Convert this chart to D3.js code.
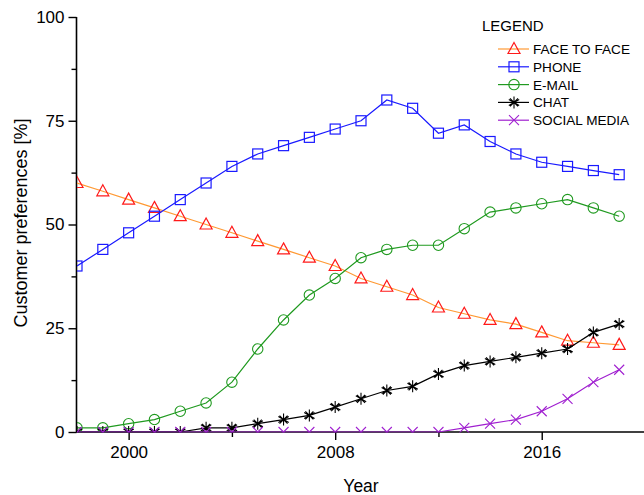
<!DOCTYPE html>
<html>
<head>
<meta charset="utf-8">
<script src="https://cdn.jsdelivr.net/npm/d3@7"></script>
<style>
  body { margin: 0; background: #fff; }
  svg { display: block; font-family: "Liberation Sans", Arial, sans-serif; }
</style>
</head>
<body>
<svg id="chart" width="644" height="495"></svg>
<script>
var years = d3.range(1998, 2020);
var faceToFace = [60, 58, 56, 54, 52, 50, 48, 46, 44, 42, 40, 37, 35, 33, 30, 28.5, 27, 26, 24, 22, 21.5, 21];
var phone = [40, 44, 48, 52, 56, 60, 64, 67, 69, 71, 73, 75, 80, 78, 72, 74, 70, 67, 65, 64, 63, 62];
var email = [1, 1, 2, 3, 5, 7, 12, 20, 27, 33, 37, 42, 44, 45, 45, 49, 53, 54, 55, 56, 54, 52];
var chat = [0, 0, 0, 0, 0, 1, 1, 2, 3, 4, 6, 8, 10, 11, 14, 16, 17, 18, 19, 20, 24, 26];
var socialMedia = [0, 0, 0, 0, 0, 0, 0, 0, 0, 0, 0, 0, 0, 0, 0, 1, 2, 3, 5, 8, 12, 15];

var xTicks = [2000, 2008, 2016];
var yTicks = [0, 25, 50, 75, 100];

(function (d3) {

  var series = [
    { name: 'FACE TO FACE', values: faceToFace, line: '#ff9933', mark: '#ff1a1a', shape: 'triangle' },
    { name: 'PHONE', values: phone, line: '#1a1aff', mark: '#1a1aff', shape: 'square' },
    { name: 'E-MAIL', values: email, line: '#209a20', mark: '#209a20', shape: 'circle' },
    { name: 'CHAT', values: chat, line: '#000000', mark: '#000000', shape: 'star' },
    { name: 'SOCIAL MEDIA', values: socialMedia, line: '#a020d0', mark: '#a020d0', shape: 'cross' }
  ];

  var svg = d3.select('#chart');
  var PLOT_LEFT = 77, PLOT_RIGHT = 645, PLOT_TOP = 17, PLOT_BOTTOM = 432;

  var x = d3.scaleLinear().domain([1998, 2020]).range([PLOT_LEFT, PLOT_RIGHT]);
  var y = d3.scaleLinear().domain([0, 100]).range([PLOT_BOTTOM, PLOT_TOP]);

  function marker(g, shape, color) {
    if (shape === 'triangle') {
      g.append('path').attr('d', 'M0,-6.5L6,4.5L-6,4.5Z')
        .attr('fill', 'none').attr('stroke', color).attr('stroke-width', 1.2);
    } else if (shape === 'square') {
      g.append('rect').attr('x', -5).attr('y', -5).attr('width', 10).attr('height', 10)
        .attr('fill', 'none').attr('stroke', color).attr('stroke-width', 1.2);
    } else if (shape === 'circle') {
      g.append('circle').attr('r', 5.2)
        .attr('fill', 'none').attr('stroke', color).attr('stroke-width', 1.1);
    } else if (shape === 'star') {
      g.append('path').attr('d', 'M0,-6V6M-5.2,-3L5.2,3M-5.2,3L5.2,-3M-4,-4L4,4M-4,4L4,-4')
        .attr('fill', 'none').attr('stroke', color).attr('stroke-width', 1.1);
    } else if (shape === 'cross') {
      g.append('path').attr('d', 'M-5,-5L5,5M-5,5L5,-5')
        .attr('fill', 'none').attr('stroke', color).attr('stroke-width', 1.1);
    }
  }

  // axes
  var xAxis = d3.axisBottom(x).tickValues(xTicks).tickFormat(d3.format('d')).tickSize(8).tickPadding(6);
  var xMinor = d3.axisBottom(x).tickValues([2004, 2012]).tickFormat('').tickSize(5);
  var yAxis = d3.axisLeft(y).tickValues(yTicks).tickSize(8).tickPadding(4);
  var yMinor = d3.axisLeft(y).tickValues([12.5, 37.5, 62.5, 87.5]).tickFormat('').tickSize(5);

  var gx = svg.append('g').attr('transform', 'translate(0,' + PLOT_BOTTOM + ')');
  gx.call(xAxis);
  gx.append('g').call(xMinor);
  gx.selectAll('.domain').remove();
  gx.append('line').attr('x1', PLOT_LEFT - 1).attr('x2', 644).attr('stroke', '#000').attr('stroke-width', 1.6);

  var gy = svg.append('g').attr('transform', 'translate(' + (PLOT_LEFT - 0.5) + ',0)');
  gy.call(yAxis);
  gy.append('g').call(yMinor);
  gy.selectAll('.domain').remove();
  gy.append('line').attr('y1', PLOT_TOP).attr('y2', PLOT_BOTTOM).attr('stroke', '#000').attr('stroke-width', 1.6);

  svg.selectAll('.tick line').attr('stroke', '#000').attr('stroke-width', 1.4);
  svg.selectAll('.tick text').attr('font-size', 17).attr('fill', '#000')
    .attr('font-family', '"Liberation Sans", Arial, sans-serif');

  svg.append('text').attr('x', 361).attr('y', 492).attr('text-anchor', 'middle')
    .attr('font-size', 17.5).text('Year');
  svg.append('text').attr('transform', 'translate(26.5,223) rotate(-90)').attr('text-anchor', 'middle')
    .attr('font-size', 18).text('Customer preferences [%]');

  // plot area, markers get clipped at the axes
  svg.append('clipPath').attr('id', 'plot-clip').append('rect')
    .attr('x', PLOT_LEFT).attr('y', PLOT_TOP - 8)
    .attr('width', PLOT_RIGHT - PLOT_LEFT).attr('height', PLOT_BOTTOM - PLOT_TOP + 8.5);

  var plot = svg.append('g').attr('clip-path', 'url(#plot-clip)');
  var line = d3.line().x(function (d) { return x(d[0]); }).y(function (d) { return y(d[1]); });

  series.forEach(function (s) {
    var pts = years.map(function (yr, i) { return [yr, s.values[i]]; });
    plot.append('path').datum(pts).attr('d', line)
      .attr('fill', 'none').attr('stroke', s.line).attr('stroke-width', 1.2);
    pts.forEach(function (p) {
      var g = plot.append('g').attr('transform', 'translate(' + x(p[0]) + ',' + y(p[1]) + ')');
      marker(g, s.shape, s.mark);
    });
  });

  // legend
  var legend = svg.append('g');
  legend.append('text').attr('x', 482).attr('y', 31).attr('font-size', 15).text('LEGEND');
  series.forEach(function (s, i) {
    var ly = 49 + i * 17.8;
    legend.append('line').attr('x1', 498).attr('x2', 529).attr('y1', ly).attr('y2', ly)
      .attr('stroke', s.line).attr('stroke-width', 1.2);
    var g = legend.append('g').attr('transform', 'translate(514,' + ly + ')');
    marker(g, s.shape, s.mark);
    legend.append('text').attr('x', 533).attr('y', ly + 5).attr('font-size', 13.6).text(s.name);
  });

})(d3);
</script>
</body>
</html>
